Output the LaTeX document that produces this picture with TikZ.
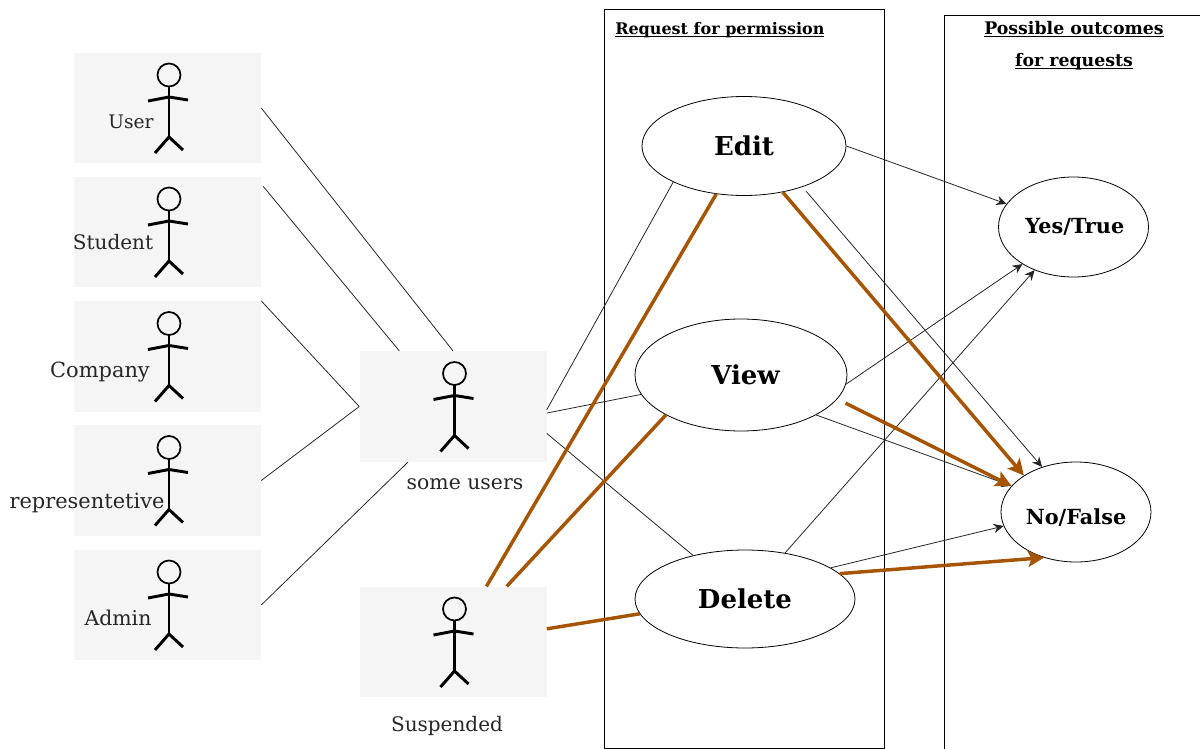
\documentclass[tikz,border=0pt]{standalone}
\usepackage{fontspec}
\setmainfont{DejaVu Serif}
\newcommand{\titleline}[1]{\setbox0=\hbox{#1}\rlap{\rule[-1.6pt]{\wd0}{0.55pt}}\box0}
\definecolor{custombrown}{RGB}{166, 84, 0}
\definecolor{customgrey}{RGB}{245, 245, 245}
\usetikzlibrary{arrows.meta,positioning,shapes}
\tikzset{
    rolebox/.style={fill=customgrey, minimum width=140.25pt, minimum height=83pt, inner sep=0pt},
    rolelabel/.style={font=\fontsize{15.3}{18}\selectfont, text=black!85, inner sep=0pt},
    title/.style={font=\bfseries\fontsize{12}{14}\selectfont, inner sep=0pt},
    titlebig/.style={font=\bfseries\fontsize{13}{15}\selectfont, inner sep=0pt},
    request/.style={ellipse, draw, line width=0.6pt, inner sep=0pt, font=\bfseries\fontsize{19.5}{23}\selectfont},
    outcome/.style={ellipse, draw, line width=0.6pt, inner sep=0pt, minimum width=112.5pt, minimum height=75pt, font=\bfseries\fontsize{15.6}{19}\selectfont},
    link/.style={line width=0.6pt, black!85},
    linkarrow/.style={link, -{Stealth[length=7.5pt, width=7pt]}},
    ban/.style={line width=2.6pt, custombrown},
    banarrow/.style={ban, -{Stealth[length=12pt, width=12pt, inset=2.5pt]}},
    actor/.pic={
        \draw[line width=1.3pt] (1.5,-33) circle (11.5);
        \draw[line width=2.2pt] (1.5,-21.5) -- (1.5,29);
        \draw[line width=2.2pt] (-19.5,-7) -- (1.5,-11) -- (20.5,-8);
        \draw[line width=2.2pt] (-12.5,45) -- (1.5,29) -- (15.5,42);
    }
}

\begin{document}
\begin{tikzpicture}[x=0.75pt, y=-0.75pt]
    \useasboundingbox (0,0) rectangle (1200,749);

    % frames
    \node[draw, line width=0.6pt, minimum width=210pt, minimum height=554.6pt, inner sep=0pt] (requestframe) at (744,378.7) {};
    \draw[line width=0.6pt] (1210,15) coordinate (outcometop) -- (944,15) -- (944,760) coordinate (outcomebottom);
    \node[title, anchor=base west] (requesttitle) at (615,35) {\titleline{Request for permission}};
    \node[titlebig, anchor=base] (outcometitle) at (1074,35) {\titleline{Possible outcomes}};
    \node[titlebig, anchor=base] (outcometitleb) at (1074,67) {\titleline{for requests}};

    % roles
    \node[rolebox] (user) at (167.5,108) {};
    \node[rolebox] (student) at (167.5,232) {};
    \node[rolebox] (company) at (167.5,356.5) {};
    \node[rolebox] (representative) at (167.5,480.5) {};
    \node[rolebox] (admin) at (167.5,605) {};
    \node[rolebox] (some) at (453,406.5) {};
    \node[rolebox] (suspended) at (453,642) {};
    \foreach \role in {user,student,company,representative,admin,some,suspended}
        \pic at (\role) {actor};

    \node[rolelabel, font=\fontsize{14}{17}\selectfont] (userlabel) at (131,122) {User};
    \node[rolelabel, font=\fontsize{15}{18}\selectfont] (studentlabel) at (113,242) {Student};
    \node[rolelabel, font=\fontsize{15.7}{18}\selectfont] (companylabel) at (100,372) {Company};
    \node[rolelabel, font=\fontsize{15.7}{18}\selectfont] (representativelabel) at (87,503) {representetive};
    \node[rolelabel] (adminlabel) at (118,618) {Admin};
    \node[rolelabel] (somelabel) at (465,484) {some users};
    \node[rolelabel, font=\fontsize{15}{18}\selectfont] (suspendedlabel) at (447,726) {Suspended};

    % requests and outcomes
    \node[request, minimum width=153pt, minimum height=74.25pt] (edit) at (744,146) {Edit};
    \node[request, minimum width=159pt, minimum height=84pt] (view) at (741,375) {\hspace{6.8pt}View};
    \node[request, minimum width=165pt, minimum height=73.5pt] (delete) at (745,599) {Delete};
    \node[outcome] (yes) at (1073.5,227) {\hspace{2pt}Yes/True};
    \node[outcome] (no) at (1076,512) {\raisebox{-6pt}[8pt][2pt]{No/False}};

    % roles to some users
    \draw[link] (user.east) -- (some.north);
    \draw[link] ([shift={(2,10)}]student.north east) -- (some.134.7);
    \draw[link] (company.north east) -- (some.west);
    \draw[link] (representative.east) -- (some.west);
    \draw[link] (admin.east) -- (some.231);

    % some users to requests
    \draw[link] (some.-2.2) -- (edit.207.2);
    \draw[link] (some.-4) -- (view.191);
    \draw[link] (some.-16.5) -- (delete.140.4);

    % suspended to requests
    \draw[ban] (suspended.59) -- (edit.240.6);
    \draw[ban] (suspended.46.6) -- (view.208.4);
    \draw[ban] (suspended.8) -- (delete.188.2);

    % requests to outcomes
    \draw[linkarrow] (edit.east) -- (yes.161.4);
    \draw[linkarrow, shorten <=4pt] (edit.-35) -- (no.127.7);
    \draw[linkarrow] (view.-5.3) -- (yes.216.2);
    \draw[linkarrow] (view.-28) -- (no.158);
    \draw[linkarrow] (delete.49) -- (yes.228.8);
    \draw[linkarrow] (delete.20.6) -- (no.191.8);
    \draw[banarrow] (edit.-50.4) -- (no.145.8);
    \draw[banarrow, shorten <=7pt] (view.-14.6) -- (no.158.2);
    \draw[banarrow] (delete.15.8) -- (no.235.2);
\end{tikzpicture}
\end{document}
